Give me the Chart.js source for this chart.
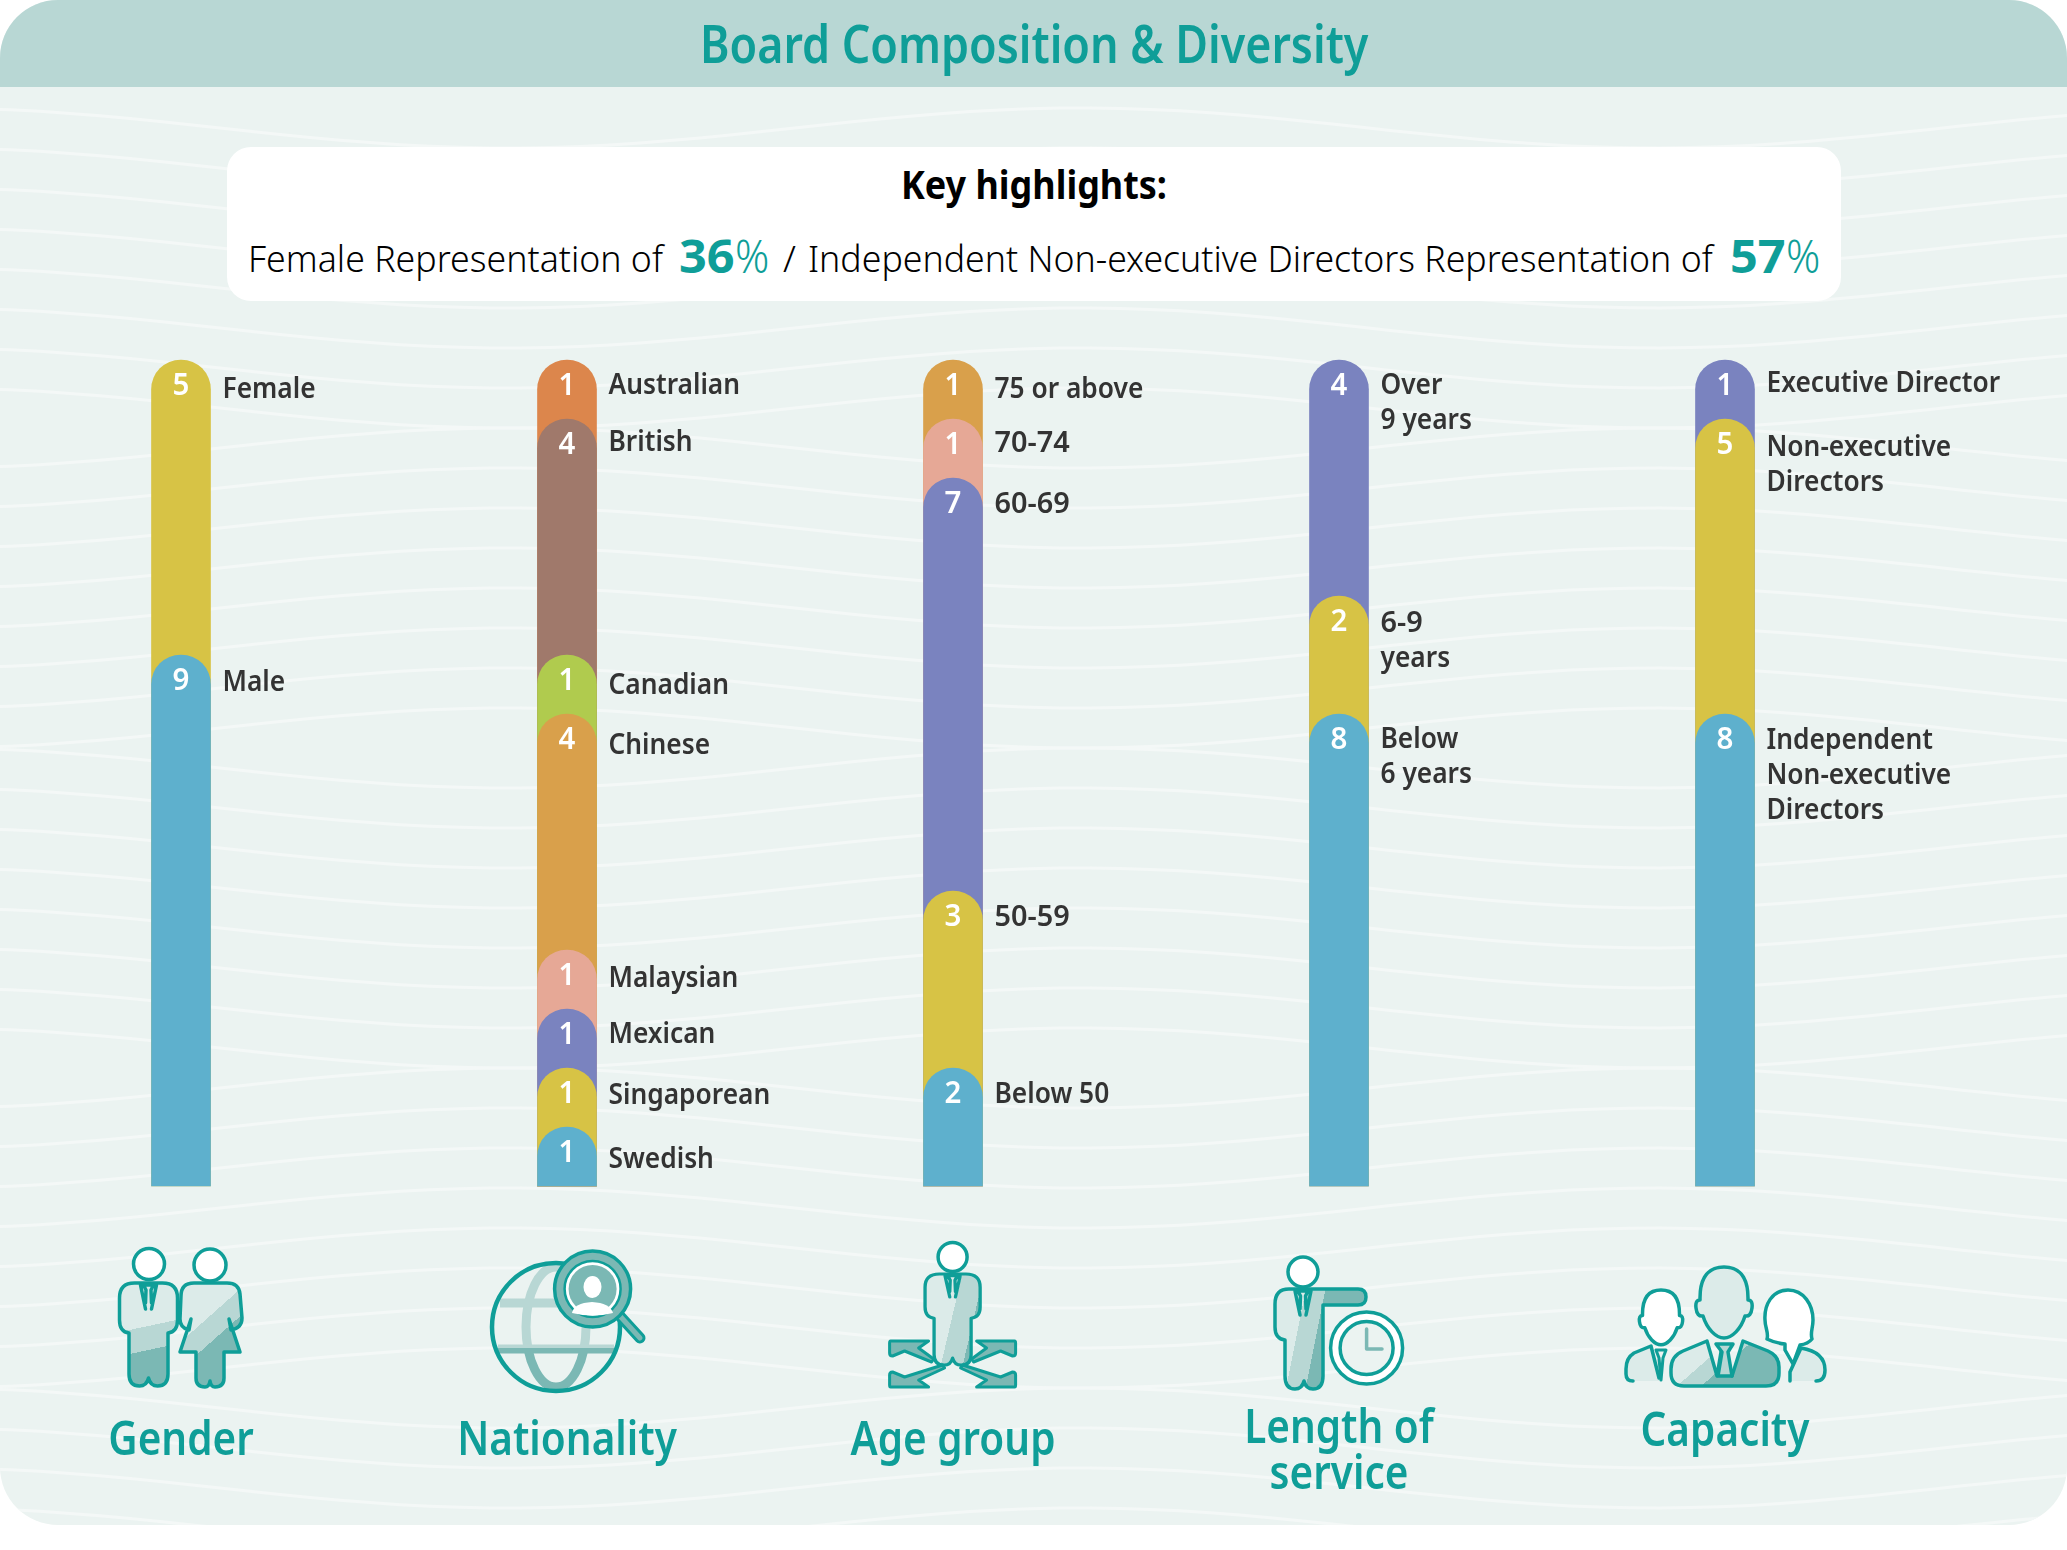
<!DOCTYPE html>
<html>
<head>
<meta charset="utf-8">
<title>Board Composition & Diversity</title>
<script src="https://cdn.jsdelivr.net/npm/chart.js@4"></script>
<style>
    html, body { margin: 0; padding: 0; background: #fff; }
    #page { position: relative; width: 2067px; height: 1550px; overflow: hidden; font-family: "Noto Sans", sans-serif; }
    #panel { position: absolute; left: 0; top: 0; width: 2067px; height: 1525px; background: #ebf3f1; border-radius: 58px; overflow: hidden; }
    #header { position: absolute; left: 0; top: 0; width: 2067px; height: 87px; background: #b8d7d4; }
    #decor { position: absolute; left: 0; top: 0; }
    #keybox { position: absolute; left: 227px; top: 147px; width: 1614px; height: 154px; background: #fff; border-radius: 24px; }
    .txt { position: absolute; white-space: nowrap; line-height: 1; transform-origin: left top; }
    canvas { position: absolute; left: 0; top: 0; }
</style>
</head>
<body>
<div id="page">
    <div id="panel">
        <svg id="decor" width="2067" height="1525" viewBox="0 0 2067 1525">
            <defs>
                <linearGradient id="manBands" x1="0" y1="0" x2="0.12" y2="1">
                    <stop offset="0.47" stop-color="#dcebe9"/><stop offset="0.47" stop-color="#b8d7d4"/>
                    <stop offset="0.70" stop-color="#b8d7d4"/><stop offset="0.70" stop-color="#7bb8b4"/>
                </linearGradient>
                <linearGradient id="womanBands" x1="0.3" y1="0" x2="0.75" y2="0.85">
                    <stop offset="0.38" stop-color="#dcebe9"/><stop offset="0.38" stop-color="#b8d7d4"/>
                    <stop offset="0.62" stop-color="#b8d7d4"/><stop offset="0.62" stop-color="#7bb8b4"/>
                </linearGradient>
                <linearGradient id="ageBands" gradientUnits="userSpaceOnUse" x1="-25" y1="50" x2="30" y2="62">
                    <stop offset="0.42" stop-color="#dcebe9"/><stop offset="0.42" stop-color="#b8d7d4"/>
                    <stop offset="0.82" stop-color="#b8d7d4"/><stop offset="0.82" stop-color="#7bb8b4"/>
                </linearGradient>
                <linearGradient id="serviceBands" gradientUnits="userSpaceOnUse" x1="1280" y1="1340" x2="1330" y2="1350">
                    <stop offset="0.3" stop-color="#dcebe9"/><stop offset="0.3" stop-color="#b8d7d4"/>
                    <stop offset="0.68" stop-color="#b8d7d4"/><stop offset="0.68" stop-color="#7bb8b4"/>
                </linearGradient>
                <linearGradient id="capacityBands" gradientUnits="userSpaceOnUse" x1="1690" y1="1345" x2="1725" y2="1385">
                    <stop offset="0.42" stop-color="#dcebe9"/><stop offset="0.42" stop-color="#b8d7d4"/>
                    <stop offset="0.72" stop-color="#b8d7d4"/><stop offset="0.72" stop-color="#7bb8b4"/>
                </linearGradient>
                <linearGradient id="globeBands" gradientUnits="userSpaceOnUse" x1="556" y1="1262" x2="556" y2="1392">
                    <stop offset="0.66" stop-color="#b8d7d4"/><stop offset="0.66" stop-color="#7bb8b4"/>
                </linearGradient>
                <path id="manBody" d="M-29 15Q-29 0-14 0H14Q29 0 29 15V37Q29 49 19.5 50V91Q19.5 103 9 103Q2 103 0 95Q-2 103-9 103Q-19.5 103-19.5 91V50Q-29 49-29 37Z"/>
                <path id="manTie" d="M-8 2L-3 26M8 2L3 26M-5 2H5L2.5 7L3 20M-5 2L-2.5 7L-3 20"/>
                <path id="arrowUpper" d="M-62 -28H-24L-34 -21L-19 -10L-21 -7L-48 -18L-60 -13Q-63 -13-63 -16V-26Q-63-28-62-28Z"/>
                <path id="arrowLower" d="M-62 -29H-24L-34 -22L-8 -10L-10 -7L-48 -19L-60 -14Q-63 -14-63 -17V-27Q-63-29-62-29Z"/>
                <path id="bigHead" d="M0 0C-20 0-24 17-24 31V33Q-29 33-28 41Q-27 50-21 49C-17 62-8 71 0 71C8 71 17 62 21 49Q27 50 28 41Q29 33 24 33V31C24 17 20 0 0 0Z"/>
            </defs>
            <g id="waves" fill="none" stroke="#f4f8f7" stroke-width="3"></g>
            <g stroke="#0f9e98" stroke-width="3.5" stroke-linejoin="round" stroke-linecap="round">
                <!-- gender -->
                <circle cx="149" cy="1264" r="15.5" fill="#fff"/>
                <g transform="translate(148.5,1283)" fill="url(#manBands)"><use href="#manBody"/></g>
                <g transform="translate(148.5,1283)" fill="none"><use href="#manTie"/></g>
                <circle cx="210" cy="1265" r="16" fill="#fff"/>
                <path fill="url(#womanBands)" d="M181 1296Q181 1283 194 1283H227Q239 1283 240 1294L242 1318Q242 1328 231 1330L229 1319L240 1352H224V1378Q224 1387 215 1387Q211 1387 210 1381Q209 1387 205 1387Q196 1387 196 1378V1352H180L191 1319L189 1330Q180 1328 180 1319Z"/>
                <!-- nationality -->
                <circle cx="556" cy="1327" r="64" fill="#ebf3f1" stroke="none"/>
                <g fill="none" stroke="url(#globeBands)" stroke-width="9" stroke-linecap="butt">
                    <ellipse cx="556" cy="1327" rx="30" ry="60"/>
                    <path d="M500 1303H612M498 1349H614"/>
                </g>
                <circle cx="556" cy="1327" r="64" fill="none" stroke-width="4.5"/>
                <path d="M619 1315L640 1338" stroke="#0f9e98" stroke-width="11" fill="none"/>
                <path d="M619 1315L640 1338" stroke="#7bb8b4" stroke-width="5" fill="none"/>
                <circle cx="592.6" cy="1289" r="38" fill="#7bb8b4"/>
                <circle cx="592.6" cy="1289" r="28" fill="#fff" stroke="#0f9e98" stroke-width="2.5"/>
                <circle cx="592.6" cy="1289" r="24" fill="#7bb8b4" stroke="none"/>
                <ellipse cx="592.5" cy="1287" rx="9" ry="11" fill="#fff" stroke="none"/>
                <path d="M572 1313Q574 1303 592 1302Q610 1303 613 1313Q593 1318 572 1313Z" fill="#fff" stroke="none"/>
                <!-- age group -->
                <circle cx="952.6" cy="1257" r="14.5" fill="#fff"/>
                <g transform="translate(952.6,1274) scale(0.95,0.885)" fill="url(#ageBands)"><use href="#manBody"/></g>
                <g transform="translate(952.6,1274) scale(0.95,0.885)" fill="none"><use href="#manTie"/></g>
                <g fill="#7bb8b4" stroke-width="3">
                    <use href="#arrowUpper" transform="translate(952.6,1369)"/>
                    <use href="#arrowUpper" transform="translate(952.6,1369) scale(-1,1)"/>
                    <use href="#arrowLower" transform="translate(952.6,1358) scale(1,-1)"/>
                    <use href="#arrowLower" transform="translate(952.6,1358) scale(-1,-1)"/>
                </g>
                <!-- length of service -->
                <circle cx="1303" cy="1272" r="15" fill="#fff"/>
                <path fill="url(#serviceBands)" d="M1275 1304Q1275 1289 1289 1289H1358Q1366 1289 1366 1297Q1366 1305 1358 1305H1323V1376Q1323 1389 1313 1389Q1306 1389 1304 1381Q1302 1389 1295 1389Q1285 1389 1285 1376V1340Q1275 1339 1275 1327Z"/>
                <g transform="translate(1303,1289)" fill="none"><use href="#manTie"/></g>
                <circle cx="1366.6" cy="1348" r="36" fill="#fff"/>
                <circle cx="1366.6" cy="1348" r="26.5" fill="#ebf3f1"/>
                <path d="M1366.6 1329V1349H1382" fill="none" stroke="#7bb8b4"/>
                <!-- capacity -->
                <use href="#bigHead" transform="translate(1724,1267)" fill="#dcebe9"/>
                <path d="M1707 1341L1683 1351Q1671 1356 1671 1369V1373Q1671 1386 1684 1386H1766Q1779 1386 1779 1373V1367Q1779 1356 1768 1351L1743 1341L1732 1376L1725 1346H1722L1717 1376Z" fill="url(#capacityBands)"/>
                <path d="M1716 1344H1733L1728 1352L1732 1376L1718 1376L1722 1352Z" fill="#b8d7d4"/>
                <use href="#bigHead" transform="translate(1661,1290) scale(0.77)" fill="#fff" stroke-width="4.5"/>
                <path d="M1651 1346L1634 1353Q1626 1358 1626 1369V1374Q1626 1381 1633 1381H1661V1356L1654 1362Z" fill="#dcebe9" stroke="none"/>
                <path d="M1633 1381Q1626 1381 1626 1374V1369Q1626 1358 1634 1353L1651 1346L1659 1378" fill="none"/>
                <path d="M1656 1350H1666L1663 1358L1661 1380L1659 1358Z" fill="none" stroke-width="3"/>
                <path d="M1788 1290C1772 1290 1764 1305 1765 1320C1765 1328 1769 1333 1767 1339Q1775 1343 1785 1344V1350L1793 1364L1800 1345Q1808 1344 1812 1339C1810 1333 1813 1328 1813 1320C1813 1305 1804 1290 1788 1290Z" fill="#fff"/>
                <path d="M1801 1348Q1825 1352 1825 1370Q1825 1381 1816 1381H1790V1372L1801 1350Z" fill="#dcebe9" stroke="none"/>
                <path d="M1816 1381Q1825 1381 1825 1370Q1825 1352 1801 1348L1790 1372V1381" fill="none"/>
            </g>
        </svg>
        <div id="header"></div>
        <div id="keybox"></div>
        <div class="txt" data-w="668" style="left:700px;top:17px;font-size:52px;font-weight:600;color:#0f9e98;">Board Composition &amp; Diversity</div>
        <div class="txt" data-w="266" style="left:901px;top:164px;font-size:40px;font-weight:700;color:#000;">Key highlights:</div>
        <div class="txt" data-w="415" style="left:248px;top:239px;font-size:37px;font-weight:300;color:#000;">Female Representation of</div>
        <div class="txt" data-w="56" style="left:679px;top:232px;font-size:46px;font-weight:700;color:#0f9e98;">36</div>
        <div class="txt" data-w="34" style="left:735px;top:232px;font-size:46px;font-weight:300;color:#0f9e98;">%</div>
        <div class="txt" data-w="13" style="left:783px;top:239px;font-size:37px;font-weight:300;color:#000;">/</div>
        <div class="txt" data-w="905" style="left:808px;top:239px;font-size:37px;font-weight:300;color:#000;">Independent Non-executive Directors Representation of</div>
        <div class="txt" data-w="56" style="left:1730px;top:232px;font-size:46px;font-weight:700;color:#0f9e98;">57</div>
        <div class="txt" data-w="34" style="left:1786px;top:232px;font-size:46px;font-weight:300;color:#0f9e98;">%</div>
    </div>
    <canvas id="myChart" width="2067" height="1550"></canvas>
</div>

<script>
const categories = ['Gender', 'Nationality', 'Age group', 'Length of service', 'Capacity'];

const genderLabels = ['Female', 'Male'];
const genderValues = [5, 9];
const nationalityLabels = ['Australian', 'British', 'Canadian', 'Chinese', 'Malaysian', 'Mexican', 'Singaporean', 'Swedish'];
const nationalityValues = [1, 4, 1, 4, 1, 1, 1, 1];
const ageLabels = ['75 or above', '70-74', '60-69', '50-59', 'Below 50'];
const ageValues = [1, 1, 7, 3, 2];
const serviceLabels = [['Over', '9 years'], ['6-9', 'years'], ['Below', '6 years']];
const serviceValues = [4, 2, 8];
const capacityLabels = ['Executive Director', ['Non-executive', 'Directors'], ['Independent', 'Non-executive', 'Directors']];
const capacityValues = [1, 5, 8];

const yellow = '#d7c345', blue = '#5eb0cd', orange = '#dc864c', brown = '#a0796b',
    green = '#b0cb4e', amber = '#d9a04b', pink = '#e6a896', purple = '#7a83bf';

const groups = [
    { labels: genderLabels, values: genderValues, colors: [yellow, blue], nudge: [30, 28] },
    { labels: nationalityLabels, values: nationalityValues, colors: [orange, brown, green, amber, pink, purple, yellow, blue], nudge: [26, 24, 31, 32, 29, 26, 28, 33] },
    { labels: ageLabels, values: ageValues, colors: [amber, pink, purple, yellow, blue], nudge: [30, 25, 27, 27, 27] },
    { labels: serviceLabels, values: serviceValues, colors: [purple, yellow, blue], nudge: [26, 28, 26] },
    { labels: capacityLabels, values: capacityValues, colors: [purple, yellow, blue], nudge: [24, 29, 27] }
];

// y of the text under the icons, one line per entry
const categoryLines = [['Gender'], ['Nationality'], ['Age group'], ['Length of', 'service'], ['Capacity']];
const categoryLineY = [[1442], [1442], [1442], [1430, 1476], [1433]];

// background waves, only decoration
function dibujarOndas() {
    const g = document.getElementById('waves');
    let salida = '';
    for (let fila = 0; fila < 36; fila++) {
        const base = 128 + fila * 40;
        const fase = Math.floor(fila / 8) % 2 === 0 ? 0 : Math.PI;
        let d = '';
        for (let x = -20; x <= 2090; x += 30) {
            const y = base + 20 * Math.sin((x - 220) / 2067 * 2 * Math.PI * 1.8 + fase);
            d += (d ? 'L' : 'M') + x + ' ' + y.toFixed(1);
        }
        salida += '<path d="' + d + '"/>';
    }
    g.innerHTML = salida;
}

// squeeze html text to the width it has in the picture
function ajustarTextos() {
    document.querySelectorAll('.txt').forEach(el => {
        const w = parseFloat(el.dataset.w);
        el.style.transform = 'scaleX(' + (w / el.offsetWidth) + ')';
    });
}

function textoEstrecho(ctx, text, x, y, sx, align) {
    ctx.save();
    ctx.translate(x, y);
    ctx.scale(sx, 1);
    ctx.textAlign = align;
    ctx.textBaseline = 'middle';
    ctx.fillText(text, 0, 0);
    ctx.restore();
}

const barLabelsPlugin = {
    id: 'barLabels',
    afterDatasetsDraw(chart) {
        const ctx = chart.ctx;
        groups.forEach((group, i) => {
            group.values.forEach((value, j) => {
                const bar = chart.getDatasetMeta(j).data[i];
                ctx.fillStyle = '#fff';
                ctx.font = '600 31px "Noto Sans"';
                textoEstrecho(ctx, String(value), bar.x, bar.y + 26, 0.95, 'center');
                const lines = [].concat(group.labels[j]);
                ctx.fillStyle = '#333333';
                ctx.font = '600 28px "Noto Sans"';
                lines.forEach((line, k) => {
                    // the ranges (60-69) run wider than the plain words
                    const sx = /^\d+-\d+$/.test(line) ? 1.03 : 0.94;
                    textoEstrecho(ctx, line, bar.x + 41.5, bar.y + group.nudge[j] + k * 35, sx, 'left');
                });
            });
        });
        ctx.fillStyle = '#0f9e98';
        ctx.font = '600 46px "Noto Sans"';
        categoryLines.forEach((lines, i) => {
            const x = chart.scales.x.getPixelForValue(i);
            lines.forEach((line, k) => {
                textoEstrecho(ctx, line, x, categoryLineY[i][k], 0.88, 'center');
            });
        });
    }
};

function crearGrafico() {
    const maxSegments = Math.max(...groups.map(g => g.values.length));
    const datasets = [];
    for (let j = 0; j < maxSegments; j++) {
        datasets.push({
            label: 'segment ' + j,
            // each bar runs from the base up to its own top, upper ones are painted first
            data: groups.map(g => j < g.values.length ? g.values.slice(j).reduce((a, b) => a + b, 0) : null),
            backgroundColor: groups.map(g => g.colors[j] || 'transparent'),
            order: -j,
            clip: false
        });
    }

    new Chart(document.getElementById('myChart').getContext('2d'), {
        type: 'bar',
        data: { labels: categories, datasets: datasets },
        plugins: [barLabelsPlugin],
        options: {
            responsive: false,
            animation: false,
            layout: { padding: { left: 181, right: 342, top: 360, bottom: 364 } },
            datasets: {
                bar: {
                    grouped: false,
                    barThickness: 59,
                    borderRadius: { topLeft: 29.5, topRight: 29.5, bottomLeft: 0, bottomRight: 0 }
                }
            },
            plugins: { legend: { display: false }, tooltip: { enabled: false }, title: { display: false } },
            scales: {
                x: { display: false, offset: false },
                y: { display: false, min: 0, max: 14 }
            }
        }
    });
}

window.onload = function () {
    dibujarOndas();
    ajustarTextos();
    document.fonts.ready.then(function () {
        ajustarTextos();
        crearGrafico();
    });
};
</script>
</body>
</html>
